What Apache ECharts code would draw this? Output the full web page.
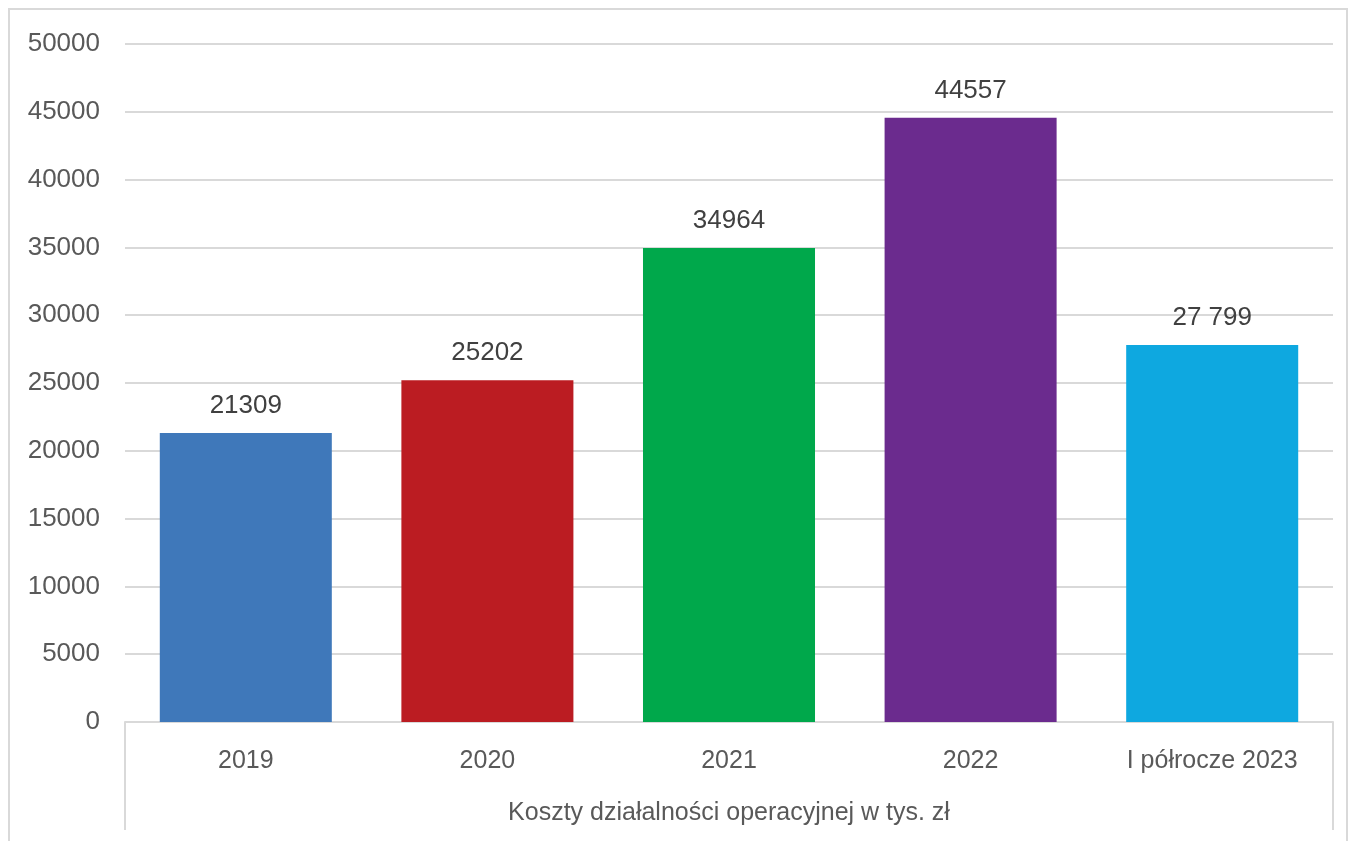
<!DOCTYPE html>
<html>
<head>
<meta charset="utf-8">
<script src="https://cdn.jsdelivr.net/npm/echarts@6/dist/echarts.min.js"></script>
<style>
html,body{margin:0;padding:0;background:#fff;}
#chart{width:1359px;height:841px;}
</style>
</head>
<body>
<div id="chart"></div>
<script>
const categories = ['2019', '2020', '2021', '2022', 'I półrocze 2023'];
const values = [21309, 25202, 34964, 44557, 27799];
const valueLabels = ['21309', '25202', '34964', '44557', '27 799'];
const barColors = ['#3F78BA', '#BB1C22', '#00A84B', '#6B2B8E', '#0EA8E0'];
const groupName = 'Koszty działalności operacyjnej w tys. zł';
const yTicks = { min: 0, max: 50000, interval: 5000 };

const FONT = 'Liberation Sans';
const TEXT = '#595959';
const GRID = '#d9d9d9';

const chart = echarts.init(document.getElementById('chart'), null, { renderer: 'canvas' });
chart.setOption({
  animation: false,
  backgroundColor: '#fff',
  textStyle: { fontFamily: FONT },
  grid: { left: 125, right: 26, top: 44, bottom: 119, containLabel: false },
  graphic: [{
    type: 'rect',
    shape: { x: 9, y: 9, width: 1338, height: 850 },
    style: { fill: 'none', stroke: '#d9d9d9', lineWidth: 2 },
    silent: true
  }],
  xAxis: [{
    type: 'category',
    data: categories,
    position: 'bottom',
    axisLine: { show: true, lineStyle: { color: GRID, width: 2 } },
    axisTick: { show: false },
    axisLabel: { color: TEXT, fontSize: 25, margin: 27, fontFamily: FONT }
  }, {
    type: 'category',
    data: [''],
    position: 'bottom',
    boundaryGap: true,
    axisLine: { show: false },
    axisTick: { show: true, length: 108, lineStyle: { color: GRID, width: 2 } },
    axisLabel: { show: false },
    name: groupName,
    nameLocation: 'middle',
    nameGap: 79,
    nameTextStyle: { color: TEXT, fontSize: 25, fontFamily: FONT }
  }],
  yAxis: {
    type: 'value',
    min: yTicks.min, max: yTicks.max, interval: yTicks.interval,
    axisLine: { show: false },
    axisTick: { show: false },
    axisLabel: { color: TEXT, fontSize: 26, margin: 25, fontFamily: FONT, formatter: v => String(v) },
    splitLine: { lineStyle: { color: GRID, width: 2 } }
  },
  series: [{
    type: 'bar',
    xAxisIndex: 0,
    barCategoryGap: '28.8%',
    data: values.map((v, i) => ({ value: v, itemStyle: { color: barColors[i] } })),
    label: {
      show: true,
      position: 'top',
      distance: 14,
      color: '#404040',
      fontSize: 26,
      fontFamily: FONT,
      formatter: p => valueLabels[p.dataIndex]
    }
  }]
});
</script>
</body>
</html>
